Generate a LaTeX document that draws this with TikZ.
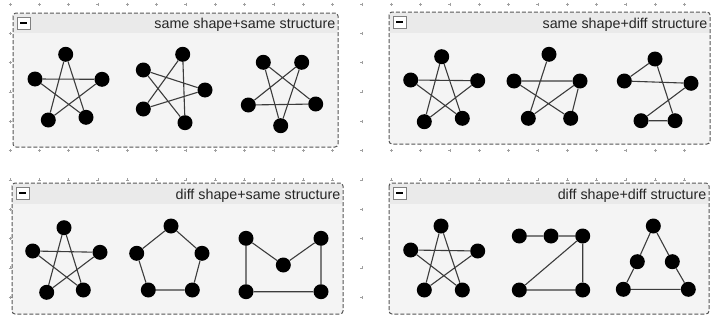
\documentclass[tikz,border=0pt]{standalone}
\usepackage{fontspec}
\setmainfont{Liberation Sans}
\usepackage{tikz}
\usetikzlibrary{positioning}
\definecolor{panelbg}{HTML}{F4F4F4}
\definecolor{headbg}{HTML}{EAEAEA}
\definecolor{framegray}{HTML}{555555}
\definecolor{edgegray}{HTML}{3C3C3C}
\definecolor{gridgray}{HTML}{A0A0A0}

\begin{document}
\begin{tikzpicture}[x=1pt, y=-1pt,
    vertex/.style={circle, fill=black, inner sep=0pt, minimum size=15pt},
    link/.style={line width=1.1pt, color=edgegray},
    frame/.style={draw=framegray, dash pattern=on 4pt off 2pt, line width=1pt,
                  rounded corners=3pt},
    title/.style={font=\fontsize{14.3}{16}\selectfont, text=black!85,
                  anchor=base east, inner sep=0pt},
    minusbox/.style={draw=gray, fill=white, minimum width=13pt, minimum height=12pt,
                     inner sep=0pt, anchor=north west,
                     path picture={\draw[black, line width=1.6pt]
                       ([xshift=-3.5pt]path picture bounding box.center) --
                       ([xshift=3.5pt]path picture bounding box.center);}},
    gridmark/.style={gridgray, line width=0.5pt}
  ]
    \useasboundingbox (0,0) rectangle (712,324);

    % Grid
    \foreach \gx in {0,...,23}
      \foreach \gy in {0,...,10}
        \draw[gridmark] (10+29.33*\gx-1.5,4+29.33*\gy) -- ++(3,0)
                        (10+29.33*\gx,4+29.33*\gy-1.5) -- ++(0,3);

    % Panels
    \foreach \k/\l/\t/\r/\b/\h/\name in {
        1/13/13/338/147/33/same shape+same structure,
        2/389/12/710/144/33/same shape+diff structure,
        3/12/183/343/314/204/diff shape+same structure,
        4/389/183/709/314/204/diff shape+diff structure} {
      \fill[panelbg, rounded corners=3pt] (\l,\t) rectangle (\r,\b);
      \fill[headbg] (\l+1,\t+1) rectangle (\r-1,\h);
      \draw[frame] (\l,\t) rectangle (\r,\b);
      \node[minusbox] (minus\k) at (\l+4,\t+4) {};
      \node[title] (title\k) at (\r-2.5,\h-4.7) {\name};
    }

    % same shape+same structure
    \foreach \n/\a/\b in {1/65.7/54.3, 2/35/79, 3/102/79.3, 4/48.3/120, 5/86/117.3}
      \node[vertex] (ssa\n) at (\a,\b) {};
    \draw[link] (ssa2) -- (ssa3) (ssa1) -- (ssa4) (ssa1) -- (ssa5) (ssa2) -- (ssa5) (ssa3) -- (ssa4);
    \foreach \n/\a/\b in {1/182.7/54.3, 2/143.3/70, 3/205/90, 4/143.3/109, 5/185/122.7}
      \node[vertex] (ssb\n) at (\a,\b) {};
    \draw[link] (ssb2) -- (ssb3) (ssb1) -- (ssb4) (ssb1) -- (ssb5) (ssb4) -- (ssb3) (ssb2) -- (ssb5);
    \foreach \n/\a/\b in {1/263.3/62.3, 2/301.7/62.3, 3/248.3/105, 4/315.7/104, 5/280.7/125.7}
      \node[vertex] (ssc\n) at (\a,\b) {};
    \draw[link] (ssc1) -- (ssc5) (ssc2) -- (ssc3) (ssc1) -- (ssc4) (ssc2) -- (ssc5) (ssc3) -- (ssc4);

    % same shape+diff structure
    \foreach \n/\a/\b in {1/441.7/56.7, 2/410.7/80, 3/477.7/80.7, 4/424.3/121.7, 5/462.3/118.3}
      \node[vertex] (sda\n) at (\a,\b) {};
    \draw[link] (sda2) -- (sda3) (sda1) -- (sda4) (sda1) -- (sda5) (sda2) -- (sda5) (sda3) -- (sda4);
    \foreach \n/\a/\b in {1/549/54.3, 2/514/81, 3/580/81, 4/528.3/118.3, 5/570.7/118.3}
      \node[vertex] (sdb\n) at (\a,\b) {};
    \draw[link] (sdb1) -- (sdb4) (sdb2) -- (sdb3) (sdb2) -- (sdb5) (sdb3) -- (sdb4) (sdb3) -- (sdb5);
    \foreach \n/\a/\b in {1/655/59, 2/624.3/81, 3/691/83.3, 4/641/120.7, 5/675/120.7}
      \node[vertex] (sdc\n) at (\a,\b) {};
    \draw[link] (sdc1) -- (sdc2) (sdc2) -- (sdc3) (sdc1) -- (sdc5) (sdc3) -- (sdc4) (sdc4) -- (sdc5);

    % diff shape+same structure
    \foreach \n/\a/\b in {1/64/227.7, 2/32.7/251, 3/100/252.3, 4/46.7/292.3, 5/83.3/290}
      \node[vertex] (dsa\n) at (\a,\b) {};
    \draw[link] (dsa2) -- (dsa3) (dsa1) -- (dsa4) (dsa1) -- (dsa5) (dsa2) -- (dsa5) (dsa3) -- (dsa4);
    \foreach \n/\a/\b in {1/171/226, 2/136.7/253.3, 3/202/253.3, 4/148.3/290, 5/192.3/290}
      \node[vertex] (dsb\n) at (\a,\b) {};
    \draw[link] (dsb1) -- (dsb2) (dsb1) -- (dsb3) (dsb2) -- (dsb4) (dsb3) -- (dsb5) (dsb4) -- (dsb5);
    \foreach \n/\a/\b in {1/246/238.3, 2/321/238.3, 3/283.3/265, 4/246/291.7, 5/321/291.7}
      \node[vertex] (dsc\n) at (\a,\b) {};
    \draw[link] (dsc1) -- (dsc3) (dsc3) -- (dsc2) (dsc1) -- (dsc4) (dsc2) -- (dsc5) (dsc4) -- (dsc5);

    % diff shape+diff structure
    \foreach \n/\a/\b in {1/441/226, 2/410.7/250, 3/477.7/251, 4/424.3/290, 5/462.3/290}
      \node[vertex] (dda\n) at (\a,\b) {};
    \draw[link] (dda2) -- (dda3) (dda1) -- (dda4) (dda1) -- (dda5) (dda2) -- (dda5) (dda3) -- (dda4);
    \foreach \n/\a/\b in {1/519.3/236, 2/551/236, 3/582.7/236, 4/519.3/290, 5/582.7/290}
      \node[vertex] (ddb\n) at (\a,\b) {};
    \draw[link] (ddb1) -- (ddb2) (ddb2) -- (ddb3) (ddb3) -- (ddb5) (ddb3) -- (ddb4) (ddb4) -- (ddb5);
    \foreach \n/\a/\b in {1/653.3/226, 2/637.3/261.7, 3/672.3/261.7, 4/623.3/289.3, 5/688.3/289.3}
      \node[vertex] (ddc\n) at (\a,\b) {};
    \draw[link] (ddc1) -- (ddc2) (ddc2) -- (ddc4) (ddc1) -- (ddc3) (ddc3) -- (ddc5) (ddc4) -- (ddc5);
\end{tikzpicture}
\end{document}
